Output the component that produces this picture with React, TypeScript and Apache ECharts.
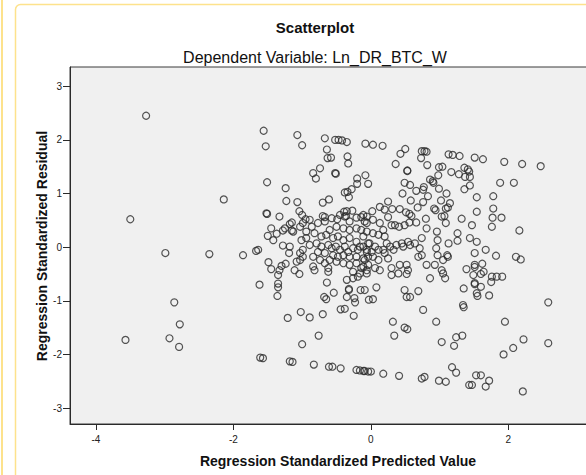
import React, { useEffect, useRef } from "react";
import * as echarts from "echarts";

// Regression standardized predicted values (x) and standardized residuals (y)
const predicted: number[] = [
  -3.27, -3.5, -2.14, -2.99, -2.35, -1.86, -1.67, -1.64, -2.86, -2.78, -3.57, -2.93, -2.79, -1.62, -1.61, -1.57,
  -1.56, -1.53, -1.07, -1.0, -0.67, -0.52, -0.47, -0.42, -0.35, -0.64, -0.63, -0.58, -0.34, -0.33, -0.74, -0.84,
  -0.8, -0.52, -0.51, -0.08, -0.08, -0.04, -0.2, -0.2, -0.28, -0.38, -0.34, -0.32, -1.51, -1.24, -1.23, -1.07,
  -0.7, -0.61, -1.52, -1.51, -1.33, -1.04, -1.0, -0.95, -0.7, -0.67, -0.49, -0.39, -0.35, -0.27, -0.36, -0.21,
  -0.14, -0.06, 0.03, 0.17, 0.5, 0.43, 0.74, 0.78, 0.81, 0.73, 0.36, 0.82, 0.53, 0.53, 1.13, 1.19,
  1.29, 1.51, 1.63, 0.99, 1.04, 1.17, 1.28, 1.36, 1.41, 1.43, 1.37, 1.44, 0.98, 0.86, 0.9, 0.91,
  0.49, 0.57, 0.77, 0.76, 0.99, 1.1, 1.36, 1.44, 0.46, 0.66, 0.58, 0.83, 0.76, 1.02, 1.15, 1.12,
  1.09, 1.54, 1.54, 0.25, 0.13, 0.2, 0.31, 0.42, 0.51, 0.56, 0.59, 0.02, 0.68, 0.8, 0.92, 0.94,
  1.07, 1.03, 1.32, 0.25, 1.94, 2.2, 2.47, 1.88, 2.08, 1.78, 1.78, 1.77, 1.9, 1.76, 2.16, 1.67,
  1.82, 2.11, 2.18, 1.62, 1.51, 1.64, 1.6, 1.76, 1.83, 1.91, 1.75, 1.51, 1.6, 1.55, 1.72, 0.3,
  0.35, 0.41, 0.49, 0.56, 0.66, 0.81, 0.96, 0.97, 0.95, 0.97, 1.13, 1.11, 1.26, 1.26, 1.47, 1.44,
  1.54, 1.51, 1.09, 0.23, 0.28, 0.33, 0.37, 0.45, 0.47, 0.54, 0.57, 0.64, 0.74, 0.71, 0.74, 0.69,
  0.18, 0.2, 0.25, 0.3, 0.42, 0.52, 0.54, 0.52, 0.4, 0.3, 0.81, 0.93, 1.05, 1.12, 1.05, 1.08,
  0.86, 1.03, 1.39, 1.51, 1.49, -0.09, 0.08, 0.03, 0.49, 0.52, 0.69, 1.35, 1.51, 1.54, -1.45, -1.5,
  -1.42, -1.37, -1.28, -1.25, -1.18, -1.15, -1.15, -1.13, -1.03, -0.99, -1.01, -1.28, -1.18, -1.19, -1.49, -1.45,
  -1.33, -1.3, -1.24, -1.35, -1.11, -1.04, -1.08, -1.03, -0.99, -1.35, -1.35, -1.36, -0.84, -0.82, -0.62, -0.62,
  -0.67, -0.64, -0.68, -0.54, -0.35, -0.32, -0.35, -0.15, -0.26, -0.19, -0.89, -0.77, -0.67, -0.57, -0.45, -0.38,
  -0.31, -0.11, -0.06, -0.5, -0.6, -0.4, -0.31, -0.21, -0.82, -0.72, -0.65, -0.55, -0.48, -0.4, -0.31, -0.21,
  -0.11, -0.04, -0.94, -0.89, -0.79, -0.72, -0.62, -0.57, -0.51, -0.45, -0.38, -0.33, -0.26, -0.19, -0.11, -0.06,
  -0.77, -0.67, -0.55, -0.48, -0.4, -0.31, -0.21, -0.11, -0.04, -0.5, -0.4, -0.31, -0.21, -0.11, -0.26, -0.16,
  -0.06, -0.99, -1.03, -0.84, -0.74, -0.6, -0.94, -0.86, -0.16, -0.06, -0.02, 0.01, 0.06, 0.11, 0.03, 0.11,
  -0.09, -0.04, -0.14, 0.06, 0.13, -0.06, -0.14, -0.06, 0.03, 0.11, 0.18, 0.2, -0.09, 0.03, 0.13, -0.65,
  -0.32, -0.24, -0.23, -0.03, -1.21, -1.02, -0.89, -0.7, -0.44, -0.38, -0.25, -0.76, -1.0, -1.18, -1.14, -0.83,
  -0.61, -0.56, -0.44, -0.21, -0.16, -0.11, -0.04, 0.57, 0.76, 0.32, 0.34, 0.49, 0.53, 0.95, 1.03, 1.24,
  1.33, 1.21, 1.34, 1.35, -0.09, 0.0, 0.18, 0.41, 0.74, 0.78, 0.99, 1.09, 1.18, 1.24, 1.43, 1.47,
  1.53, 2.58, 1.95, 2.22, 2.07, 1.93, 2.58, 1.6, 1.72, 1.67, 2.21,
];

const residual: number[] = [
  2.45, 0.52, 0.89, -0.11, -0.13, -0.15, -0.07, -0.05, -1.03, -1.44, -1.73, -1.7, -1.86, -0.7, -2.06, -2.07,
  2.17, 1.88, 2.09, 1.9, 2.03, 2.0, 2.0, 1.99, 1.96, 1.82, 1.66, 1.67, 1.69, 1.56, 1.47, 1.38,
  1.28, 1.38, 1.37, 1.93, 1.34, 1.18, 1.28, 1.18, 1.08, 1.02, 1.03, 0.93, 1.21, 1.1, 0.86, 0.84,
  0.83, 0.89, 0.63, 0.62, 0.57, 0.67, 0.6, 0.52, 0.58, 0.56, 0.52, 0.66, 0.67, 0.68, 0.58, 0.55,
  0.56, 0.57, 1.91, 1.89, 1.83, 1.74, 1.79, 1.79, 1.78, 1.66, 1.55, 1.53, 1.42, 1.43, 1.73, 1.72,
  1.7, 1.67, 1.64, 1.49, 1.5, 1.4, 1.36, 1.48, 1.45, 1.41, 1.31, 1.31, 1.34, 1.26, 1.23, 1.2,
  1.2, 1.16, 1.12, 1.07, 1.09, 1.0, 1.08, 1.15, 1.0, 1.05, 0.87, 0.95, 0.84, 0.87, 0.82, 0.74,
  0.72, 0.93, 0.66, 0.85, 0.75, 0.7, 0.71, 0.71, 0.65, 0.62, 0.58, 0.67, 0.74, 0.53, 0.72, 0.69,
  0.58, 0.57, 0.53, 0.56, 1.59, 1.55, 1.51, 1.2, 1.2, 0.95, 0.72, 0.55, 0.55, 0.38, 0.31, -0.05,
  -0.16, -0.18, -0.23, -0.31, -0.37, -0.46, -0.5, -0.55, -0.55, -0.55, -0.65, -0.69, -0.74, -0.91, -0.9, 0.41,
  0.41, 0.38, 0.41, 0.46, 0.46, 0.35, 0.29, 0.13, -0.02, -0.15, 0.07, -0.15, 0.26, 0.12, 0.41, 0.17,
  0.1, -0.11, 0.45, 0.07, 0.01, -0.05, 0.04, 0.07, 0.01, 0.1, 0.04, 0.07, 0.17, -0.02, -0.15, -0.18,
  -0.05, -0.11, -0.21, -0.39, -0.33, -0.33, -0.43, -0.5, -0.49, -0.52, -0.33, -0.33, -0.24, -0.18, -0.49, -0.58,
  -0.58, -0.43, -0.41, -0.33, -0.52, -0.8, -0.75, -0.97, -0.8, -0.93, -0.82, -0.77, -0.67, -0.86, 0.35, 0.21,
  0.13, 0.25, 0.31, 0.35, 0.43, 0.46, 0.31, 0.29, 0.38, 0.45, 0.13, 0.03, 0.01, -0.11, -0.28, -0.41,
  -0.43, -0.35, -0.31, -0.52, -0.43, -0.5, -0.27, -0.24, -0.18, -0.68, -0.75, -0.91, -0.36, -0.43, -0.39, -0.46,
  -0.3, -0.66, -0.93, -0.85, -0.61, -0.78, -0.93, -0.8, -0.58, -0.55, 0.51, 0.45, 0.48, 0.54, 0.6, 0.57,
  0.48, 0.6, 0.45, 0.38, 0.32, 0.35, 0.32, 0.35, 0.26, 0.2, 0.23, 0.17, 0.2, 0.13, 0.17, 0.1,
  0.2, 0.07, 0.17, 0.04, 0.07, 0.01, 0.04, -0.02, 0.01, -0.05, 0.01, -0.09, -0.02, -0.05, 0.01, -0.09,
  -0.09, -0.11, -0.15, -0.18, -0.15, -0.18, -0.18, -0.21, -0.18, -0.27, -0.3, -0.33, -0.3, -0.36, -0.46, -0.49,
  -0.43, -0.05, -0.11, -0.18, -0.24, -0.24, 0.29, 0.38, 0.01, -0.05, 0.07, -0.09, 0.01, -0.05, -0.18, -0.24,
  -0.24, -0.33, -0.39, -0.39, -0.43, -0.49, 0.32, 0.29, 0.26, 0.23, 0.32, 0.2, 0.48, 0.51, 0.45, -0.97,
  -0.8, -0.95, -1.03, -0.98, -1.32, -1.21, -1.31, -1.25, -1.16, -1.15, -1.28, -1.65, -1.81, -2.13, -2.14, -2.19,
  -2.23, -2.23, -2.26, -2.29, -2.3, -2.31, -2.32, -0.93, -1.17, -1.39, -1.65, -1.5, -1.53, -1.39, -1.77, -1.68,
  -1.65, -1.84, -1.08, -1.12, -2.31, -2.32, -2.36, -2.4, -2.45, -2.42, -2.49, -2.51, -2.24, -2.34, -2.57, -2.57,
  -2.39, -1.03, -1.39, -1.72, -1.88, -2.0, -1.79, -2.39, -2.49, -2.6, -2.69,
];

const xTicks = [-4, -2, 0, 2];
const yTicks = [-3, -2, -1, 0, 1, 2, 3];

const chartTitle = "Scatterplot";
const chartSubtitle = "Dependent Variable: Ln_DR_BTC_W";
const xTitle = "Regression Standardized Predicted Value";
const yTitle = "Regression Standardized Residual";

const FONT = "'Liberation Sans', Arial, sans-serif";

export default function App() {
  const ref = useRef<HTMLDivElement>(null);

  useEffect(() => {
    if (!ref.current) return;
    const chart = echarts.init(ref.current, null, { renderer: "svg" });
    const points = predicted.map((x, i) => [x, residual[i]]);

    chart.setOption({
      animation: false,
      backgroundColor: "#ffffff",
      grid: {
        left: 70,
        top: 67,
        bottom: 51,
        right: -20,
        show: true,
        backgroundColor: "#f0f0f0",
        borderColor: "#3a3a3a",
        borderWidth: 1,
        containLabel: false,
        outerBoundsMode: "none",
      },
      xAxis: {
        type: "value",
        min: -4.377,
        max: 3.42,
        axisLine: { show: true, onZero: false, lineStyle: { color: "#2a2a2a", width: 1 } },
        axisTick: { show: true, length: 6, customValues: xTicks, lineStyle: { color: "#2a2a2a" } },
        axisLabel: {
          customValues: xTicks,
          fontFamily: FONT,
          fontSize: 10,
          color: "#222",
          margin: 10,
        },
        splitLine: { show: false },
      },
      yAxis: {
        type: "value",
        min: -3.298,
        max: 3.359,
        axisLine: { show: true, onZero: false, lineStyle: { color: "#2a2a2a", width: 1 } },
        axisTick: { show: true, length: 7, customValues: yTicks, lineStyle: { color: "#2a2a2a" } },
        axisLabel: {
          customValues: yTicks,
          fontFamily: FONT,
          fontSize: 10,
          color: "#222",
          margin: 8,
        },
        splitLine: { show: false },
      },
      graphic: [
        {
          type: "rect",
          shape: { x: 15.5, y: 4.5, width: 700, height: 600, r: 5 },
          style: { fill: "none", stroke: "#fde28c", lineWidth: 1.5 },
          silent: true,
        },
        {
          type: "line",
          shape: { x1: 2, y1: 0, x2: 2, y2: 475 },
          style: { stroke: "#fde28c", lineWidth: 2 },
          silent: true,
        },
        {
          type: "text",
          x: 315,
          y: 27,
          style: {
            text: chartTitle,
            font: `bold 15px ${FONT}`,
            fill: "#111",
            align: "center",
            verticalAlign: "middle",
            textAlign: "center",
            textVerticalAlign: "middle",
          },
        },
        {
          type: "text",
          x: 315,
          y: 57,
          style: {
            text: chartSubtitle,
            font: `16px ${FONT}`,
            fill: "#111",
            align: "center",
            verticalAlign: "middle",
            textAlign: "center",
            textVerticalAlign: "middle",
          },
        },
        {
          type: "text",
          x: 338,
          y: 461,
          style: {
            text: xTitle,
            font: `bold 14px ${FONT}`,
            fill: "#111",
            align: "center",
            verticalAlign: "middle",
            textAlign: "center",
            textVerticalAlign: "middle",
          },
        },
        {
          type: "text",
          x: 42,
          y: 246,
          rotation: Math.PI / 2,
          style: {
            text: yTitle,
            font: `bold 14px ${FONT}`,
            fill: "#111",
            align: "center",
            verticalAlign: "middle",
            textAlign: "center",
            textVerticalAlign: "middle",
          },
        },
      ],
      series: [
        {
          type: "scatter",
          data: points,
          symbol: "circle",
          symbolSize: 7,
          itemStyle: {
            color: "rgba(0,0,0,0)",
            borderColor: "#2a2a2a",
            borderWidth: 1.2,
          },
          emphasis: { disabled: true },
        },
      ],
    });

    return () => chart.dispose();
  }, []);

  return (
    <div
      ref={ref}
      style={{ position: "absolute", left: 0, top: 0, width: 586, height: 475 }}
    />
  );
}
